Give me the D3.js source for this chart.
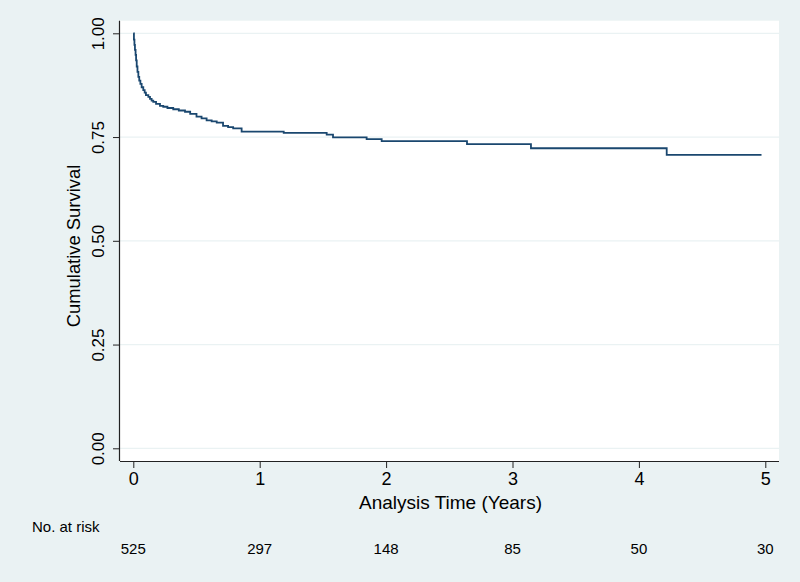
<!DOCTYPE html>
<html>
<head>
<meta charset="utf-8">
<script src="https://cdn.jsdelivr.net/npm/d3@7"></script>
<style>
  html, body { margin: 0; padding: 0; background: #eaf2f3; }
  svg { display: block; }
  text { font-family: "Liberation Sans", Arial, Helvetica, sans-serif; fill: #000; }
</style>
</head>
<body>
<svg id="chart" width="800" height="582"></svg>
<script>
// ---- data ----
const stepTimes = [0, 0.005, 0.009, 0.013, 0.018, 0.022, 0.027, 0.033, 0.04, 0.047, 0.056, 0.066, 0.079, 0.09, 0.1, 0.119, 0.132, 0.145, 0.158, 0.18, 0.211, 0.237, 0.27, 0.316, 0.36, 0.409, 0.45, 0.5, 0.54, 0.58, 0.62, 0.66, 0.71, 0.75, 0.79, 0.857, 1.19, 1.53, 1.58, 1.846, 1.965, 2.64, 3.146, 4.22];
const survival  = [1, 0.985, 0.972, 0.96, 0.948, 0.935, 0.92, 0.907, 0.895, 0.886, 0.878, 0.87, 0.863, 0.857, 0.851, 0.847, 0.842, 0.838, 0.835, 0.83, 0.825, 0.823, 0.82, 0.817, 0.814, 0.811, 0.806, 0.799, 0.795, 0.79, 0.788, 0.785, 0.777, 0.774, 0.771, 0.763, 0.76, 0.756, 0.749, 0.745, 0.74, 0.733, 0.723, 0.707];
const endTime = 4.97;
const xTicks = [0, 1, 2, 3, 4, 5];
const yTicks = [0, 0.25, 0.5, 0.75, 1];
const atRisk = [525, 297, 148, 85, 50, 30];
const xTitle = "Analysis Time (Years)";
const yTitle = "Cumulative Survival";
const riskTitle = "No. at risk";

// ---- layout ----
const svg = d3.select("#chart");
const plot = { left: 120, right: 779, top: 20.7, bottom: 461 };
const x = d3.scaleLinear().domain([0, 5]).range([133.3, 765.3]);
const y = d3.scaleLinear().domain([0, 1]).range([448.3, 33.3]);

// plot region
svg.append("rect")
  .attr("x", plot.left).attr("y", plot.top)
  .attr("width", plot.right - plot.left).attr("height", plot.bottom - plot.top)
  .attr("fill", "#ffffff");

// gridlines
svg.append("g").selectAll("line").data(yTicks).join("line")
  .attr("x1", plot.left).attr("x2", plot.right)
  .attr("y1", d => y(d)).attr("y2", d => y(d))
  .attr("stroke", "#eaf2f3").attr("stroke-width", 1.2);

// curve
const pts = stepTimes.map((t, i) => [t, survival[i]]);
pts.push([endTime, survival[survival.length - 1]]);
const line = d3.line().x(d => x(d[0])).y(d => y(d[1])).curve(d3.curveStepAfter);
svg.append("path").datum(pts)
  .attr("d", line)
  .attr("fill", "none")
  .attr("stroke", "#1a476f")
  .attr("stroke-width", 1.8);

// axes
const xAxis = d3.axisBottom(x).tickValues(xTicks).tickFormat(d3.format("d")).tickSize(7).tickPadding(4);
const gx = svg.append("g").attr("transform", `translate(0,${plot.bottom})`).call(xAxis);
gx.select(".domain").attr("d", `M${plot.left},0.5H${plot.right}`).attr("stroke", "#222").attr("stroke-width", 1.2);
gx.selectAll(".tick line").attr("stroke", "#222");
gx.selectAll(".tick text").attr("font-size", 18).attr("font-family", null).attr("dy", "0.71em");

const yAxis = d3.axisLeft(y).tickValues(yTicks).tickFormat(d3.format(".2f")).tickSize(7).tickPadding(0);
const gy = svg.append("g").attr("transform", `translate(${plot.left},0)`).call(yAxis);
gy.select(".domain").attr("d", `M-0.5,${plot.top}V${plot.bottom}`).attr("stroke", "#222").attr("stroke-width", 1.2);
gy.selectAll(".tick line").attr("stroke", "#222");
gy.selectAll(".tick text")
  .attr("font-size", 17).attr("font-family", null)
  .attr("text-anchor", "middle")
  .attr("x", null).attr("dy", null)
  .attr("transform", "translate(-16,0) rotate(-90)");

// titles
svg.append("text").attr("x", 450.5).attr("y", 509)
  .attr("text-anchor", "middle").attr("font-size", 19).text(xTitle);
svg.append("text").attr("transform", "translate(80,246) rotate(-90)")
  .attr("text-anchor", "middle").attr("font-size", 18.4).text(yTitle);

// at risk table
svg.append("text").attr("x", 32).attr("y", 531.5).attr("font-size", 15).text(riskTitle);
svg.append("g").selectAll("text").data(atRisk).join("text")
  .attr("x", (d, i) => x(xTicks[i])).attr("y", 554)
  .attr("text-anchor", "middle").attr("font-size", 15).text(d => d);
</script>
</body>
</html>
